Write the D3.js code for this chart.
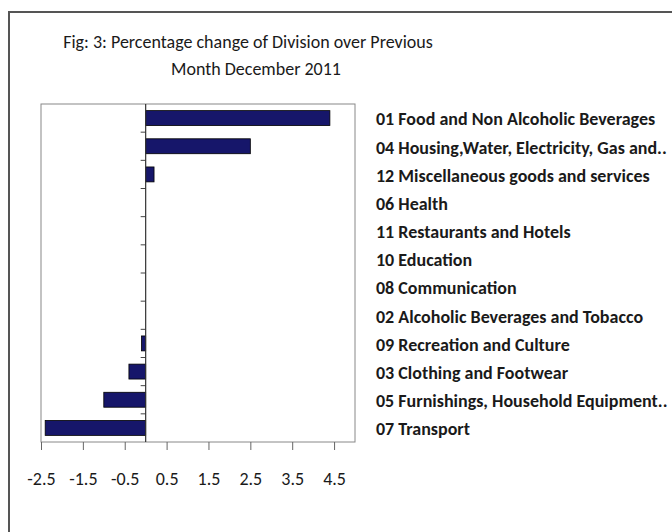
<!DOCTYPE html>
<html>
<head>
<meta charset="utf-8">
<script src="https://cdn.jsdelivr.net/npm/d3@7"></script>
<style>
  body { margin: 0; background: #fff; }
  text { font-family: Carlito, Lato, "Liberation Sans", sans-serif; fill: #1a1a1a; }
</style>
</head>
<body>
<div id="chart"></div>
<script>
const categories = [
  "01 Food and Non Alcoholic Beverages",
  "04 Housing,Water, Electricity, Gas and..",
  "12 Miscellaneous goods and services",
  "06 Health",
  "11 Restaurants and Hotels",
  "10 Education",
  "08 Communication",
  "02 Alcoholic Beverages and Tobacco",
  "09 Recreation and Culture",
  "03 Clothing and Footwear",
  "05 Furnishings, Household Equipment..",
  "07 Transport"
];
const changes = [4.4, 2.5, 0.2, 0, 0, 0, 0, 0, -0.1, -0.4, -1.0, -2.4];
const xTicks = [-2.5, -1.5, -0.5, 0.5, 1.5, 2.5, 3.5, 4.5];
const titleLines = ["Fig: 3: Percentage change of Division over Previous", "Month December 2011"];

const width = 672, height = 532;
const plot = { left: 41, right: 355, top: 104, bottom: 442 };

const svg = d3.select("#chart").append("svg")
  .attr("width", width)
  .attr("height", height);

// outer frame
svg.append("path")
  .attr("d", `M9,${height} L9,12 L${width},12`)
  .attr("fill", "none")
  .attr("stroke", "#555")
  .attr("stroke-width", 2);

svg.selectAll(".title")
  .data(titleLines)
  .enter()
  .append("text")
  .attr("x", (d, i) => (i == 0 ? 248 : 256))
  .attr("y", (d, i) => 48 + i * 27)
  .attr("text-anchor", "middle")
  .attr("font-size", 18)
  .text((d) => d);

let xScale = d3.scaleLinear()
  .domain([-2.5, 5])
  .range([plot.left, plot.right]);

let yScale = d3.scaleBand()
  .domain(categories)
  .range([plot.top, plot.bottom])
  .paddingInner(0.47)
  .paddingOuter(0.235);

// plot area border
svg.append("rect")
  .attr("x", plot.left)
  .attr("y", plot.top)
  .attr("width", plot.right - plot.left)
  .attr("height", plot.bottom - plot.top)
  .attr("fill", "none")
  .attr("stroke", "#888")
  .attr("stroke-width", 1);

// x axis
svg.append("g")
  .attr("transform", `translate(0, ${plot.bottom})`)
  .call(d3.axisBottom(xScale).tickValues(xTicks).tickSize(8).tickPadding(22)
    .tickFormat((d) => d.toFixed(1)))
  .call((g) => g.select(".domain").remove())
  .call((g) => g.selectAll(".tick line").attr("stroke", "#666"))
  .call((g) => g.selectAll(".tick text").attr("font-size", 18).attr("font-family", null));

// bars
svg.selectAll(".bar")
  .data(categories)
  .enter()
  .append("rect")
  .attr("x", (d, i) => xScale(Math.min(0, changes[i])))
  .attr("y", (d) => yScale(d))
  .attr("width", (d, i) => Math.abs(xScale(changes[i]) - xScale(0)))
  .attr("height", yScale.bandwidth())
  .attr("fill", "#16166a")
  .attr("stroke", "#000")
  .attr("stroke-width", 0.8);

// category axis on zero line
const gap = (yScale.step() - yScale.bandwidth()) / 2;
const boundaries = categories.map((d) => yScale(d) - gap).slice(1);
svg.append("g")
  .selectAll("line")
  .data(boundaries)
  .enter()
  .append("line")
  .attr("x1", xScale(0) - 5)
  .attr("x2", xScale(0))
  .attr("y1", (d) => d)
  .attr("y2", (d) => d)
  .attr("stroke", "#444");

svg.append("line")
  .attr("x1", xScale(0))
  .attr("x2", xScale(0))
  .attr("y1", plot.top)
  .attr("y2", plot.bottom)
  .attr("stroke", "#333")
  .attr("stroke-width", 1.2);

// category labels
svg.selectAll(".cat")
  .data(categories)
  .enter()
  .append("text")
  .attr("x", 376)
  .attr("y", (d) => yScale(d) + yScale.bandwidth() / 2 + 1)
  .attr("dy", "0.35em")
  .attr("font-size", 18)
  .attr("font-weight", 600)
  .text((d) => d);
</script>
</body>
</html>
